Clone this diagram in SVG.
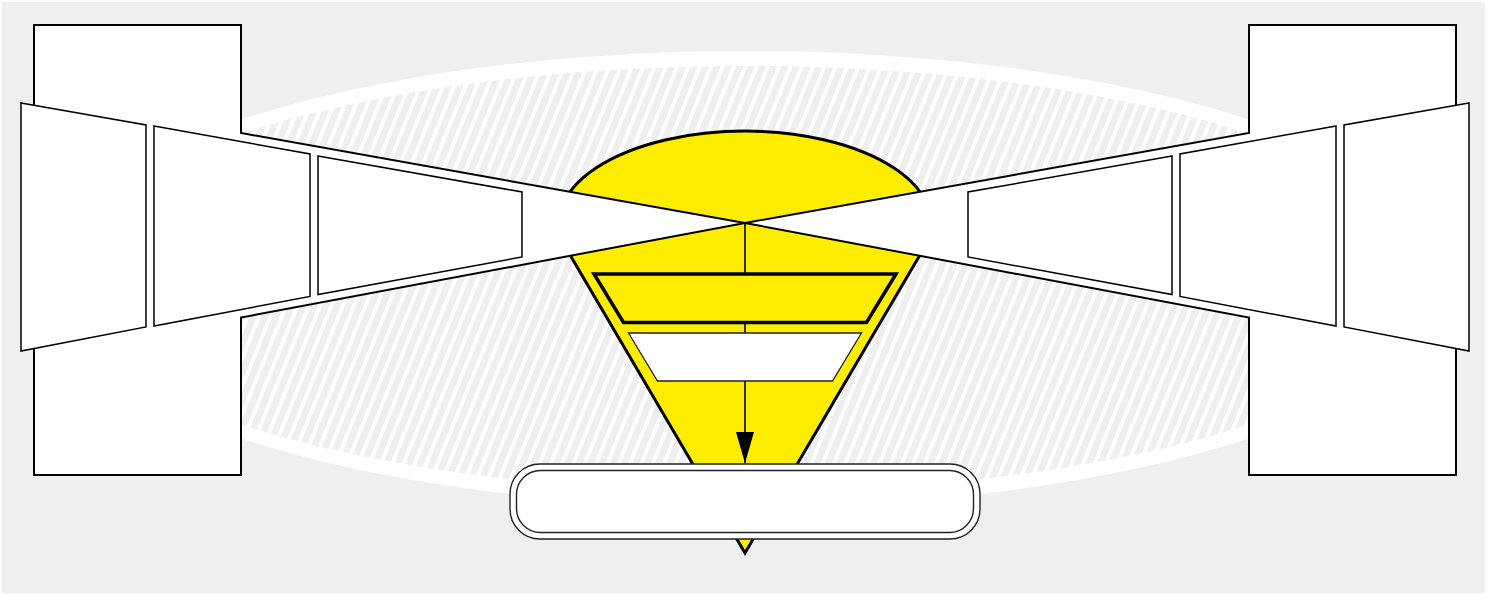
<svg xmlns="http://www.w3.org/2000/svg" width="1492" height="595" viewBox="0 0 1492 595">
  <style>
    .blk { fill: #ffffff; stroke: #000000; stroke-width: 2; stroke-linejoin: miter; }
    .trap { fill: #ffffff; stroke: #000000; stroke-width: 1.5; }
    .pin { fill: #ffed00; stroke: #000000; stroke-width: 3; stroke-linejoin: miter; }
    .band1 { fill: #ffed00; stroke: #000000; stroke-width: 3.5; }
    .band2 { fill: #ffffff; stroke: #222222; stroke-width: 1.3; }
    .pill { fill: #ffffff; stroke: #222222; stroke-width: 1.4; }
    .conn { fill: none; stroke: #000000; stroke-width: 1.6; }
  </style>
  <defs>
    <pattern id="hatch" patternUnits="userSpaceOnUse" width="10.5" height="10.5" patternTransform="rotate(22)">
      <rect x="0" y="0" width="10.5" height="10.5" fill="#efefef"/>
      <rect x="0" y="0" width="3.8" height="10.5" fill="#ffffff"/>
    </pattern>
    <marker id="arrow" markerUnits="userSpaceOnUse" markerWidth="32" markerHeight="18" refX="31" refY="9" orient="auto">
      <path d="M0,0 L31,9 L0,18 Z" fill="#000000"/>
    </marker>
  </defs>

  <rect x="0" y="0" width="1492" height="595" fill="#ffffff"/>
  <rect x="2" y="2" width="1483" height="591" fill="#efefef"/>

  <g id="backdrop">
    <ellipse cx="745" cy="279" rx="705" ry="228" fill="#ffffff"/>
    <ellipse cx="745" cy="279" rx="690" ry="213" fill="url(#hatch)"/>
  </g>

  <g id="pin">
    <path class="pin" d="M745,553 L566.3,248.6 A186,92 0 1 1 923.7,248.6 Z"/>
  </g>

  <g id="left-block">
    <polygon class="blk" points="34,25 241,25 241,133 745,223 241,317.5 241,475 34,475"/>
  </g>
  <g id="right-block">
    <polygon class="blk" points="1456,25 1249,25 1249,133 745,223 1249,317.5 1249,475 1456,475"/>
  </g>

  <g id="left-1"><polygon class="trap" points="21,103 146,125 146,327 21,351"/></g>
  <g id="left-2"><polygon class="trap" points="154,126 310,154 310,296.5 154,326"/></g>
  <g id="left-3"><polygon class="trap" points="318,156 522,192 522,257 318,294.5"/></g>
  <g id="right-1"><polygon class="trap" points="1469,103 1344,125 1344,327 1469,351"/></g>
  <g id="right-2"><polygon class="trap" points="1336,126 1180,154 1180,296.5 1336,326"/></g>
  <g id="right-3"><polygon class="trap" points="1172,156 968,192 968,257 1172,294.5"/></g>

  <g id="connectors">
    <line class="conn" x1="745" y1="223" x2="745" y2="463" marker-end="url(#arrow)"/>
  </g>

  <g id="band-1"><polygon class="band1" points="594,274 896,274 866.5,322.5 623.5,322.5"/></g>
  <g id="band-2"><polygon class="band2" points="628.5,333 861.5,333 832.5,381 657.5,381"/></g>

  <g id="pill">
    <rect class="pill" x="510" y="464" width="470" height="75" rx="30" ry="30"/>
    <rect class="pill" x="516.5" y="470.5" width="457" height="62" rx="24" ry="24"/>
  </g>
</svg>
